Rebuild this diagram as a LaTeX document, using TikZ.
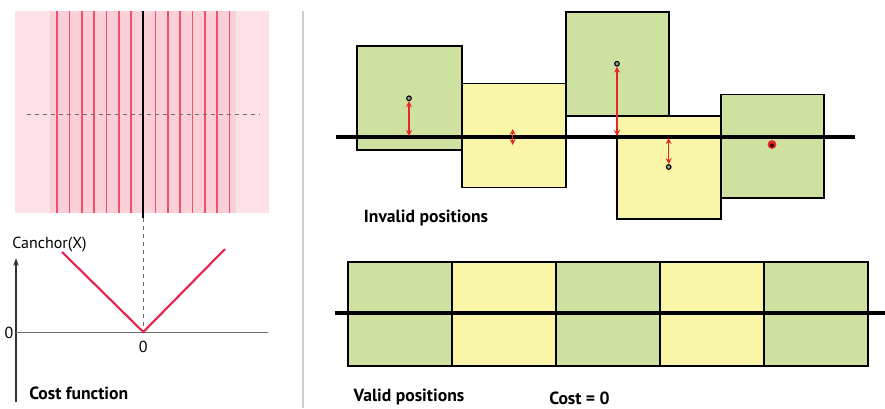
\documentclass[tikz,border=0pt]{standalone}
\usepackage{fontspec}
\setmainfont{PT Sans}
\usetikzlibrary{arrows.meta}
\definecolor{pinkbg}{RGB}{249,208,215}
\definecolor{pinklite}{RGB}{252,226,231}
\definecolor{redline}{RGB}{244,80,105}
\definecolor{vred}{RGB}{232,36,78}
\definecolor{boxgreen}{RGB}{206,225,160}
\definecolor{boxyellow}{RGB}{250,246,168}
\definecolor{sepgray}{RGB}{205,205,205}
\definecolor{axgray}{RGB}{110,110,110}
\definecolor{arrred}{RGB}{230,40,40}
\tikzset{
  gbox/.style={draw=black, line width=1.2pt, fill=boxgreen},
  ybox/.style={draw=black, line width=1.2pt, fill=boxyellow},
  redv/.style={draw=redline, line width=1.3pt},
  axisline/.style={draw=black, line width=3pt},
  costarrow/.style={draw=arrred, line width=0.9pt, {Stealth[length=4.5pt,width=4.5pt]}-{Stealth[length=4.5pt,width=4.5pt]}},
  centerdot/.style={circle, draw=black, fill=white!60!black, line width=0.8pt, inner sep=0pt, minimum size=3.5pt},
  boldlabel/.style={font=\fontsize{13.2}{15}\selectfont\bfseries, inner sep=0pt},
  plainlabel/.style={font=\fontsize{12}{14}\selectfont, inner sep=0pt}
}
\begin{document}
\begin{tikzpicture}[x=0.75pt,y=-0.75pt]
\useasboundingbox (0,0) rectangle (885,408);
\fill[white] (0,0) rectangle (885,408);

% ---------- left: pink field ----------
\fill[pinklite] (15,11) rectangle (269,213);
\fill[pinkbg] (50,11) rectangle (236,213);
\foreach \k in {1,...,7}{
  \draw[redv] ({143.3-12.3*\k},11) -- ({143.3-12.3*\k},213);
  \draw[redv] ({143.3+12.3*\k},11) -- ({143.3+12.3*\k},213);
}
\draw[axgray, dashed, line width=0.6pt, dash pattern=on 3pt off 3pt] (27,114) -- (260,114);
\draw[black, line width=1.3pt] (143.3,11) -- (143.3,218);
\draw[axgray, dashed, line width=0.6pt, dash pattern=on 3pt off 3pt] (143.3,218) -- (143.3,332);

% ---------- left: cost function ----------
\coordinate (yb) at (16,402);
\coordinate (yt) at (16,258);
\coordinate (xl) at (16,332);
\coordinate (xr) at (268,332);
\draw[black!80, line width=0.8pt, -{Stealth[length=6pt,width=4pt]}] (yb) -- (yt);
\draw[axgray, line width=0.7pt] (xl) -- (xr);
\coordinate (vl) at (62,252);
\coordinate (v0) at (143.3,332);
\coordinate (vr) at (225,249);
\draw[vred, line width=1.6pt] (vl) -- (v0) -- (vr);
\node[plainlabel, anchor=west] (canchor) at (12,245) {Canchor(X)};
\node[plainlabel] (zeroy) at (9,333) {0};
\node[plainlabel] (zerox) at (143.3,347) {0};
\node[boldlabel, anchor=west] (costfn) at (29,393) {Cost function};

% ---------- separator ----------
\draw[sepgray, line width=1.4pt] (303,11) -- (303,408);

% ---------- top right: invalid positions ----------
\draw[gbox] (356.7,46) rectangle (461.7,150);
\draw[ybox] (461.7,83.3) rectangle (565.7,187.3);
\draw[gbox] (565.7,11.7) rectangle (669,115.7);
\draw[ybox] (616.7,115.7) rectangle (720.7,219);
\draw[gbox] (720.7,94.3) rectangle (824,197.7);
\coordinate (axl) at (336,136.7);
\coordinate (axr) at (855,136.7);
\draw[axisline] (axl) -- (axr);

\node[centerdot] (c1) at (409,98.3) {};
\coordinate (a1) at (409,136);
\draw[costarrow] (c1.south) -- (a1);

\coordinate (c2t) at (512.7,129);
\coordinate (c2b) at (512.7,145);
\draw[costarrow] (c2t) -- (c2b);

\node[centerdot] (c3) at (617,63.7) {};
\coordinate (a3) at (617,136);
\draw[costarrow] (c3.south) -- (a3);

\node[centerdot] (c4) at (668.7,167) {};
\coordinate (a4) at (668.7,138);
\draw[costarrow] (a4) -- (c4.north);

\fill[arrred] (772,144.5) circle (3.3pt);
\fill[black!70!red] (772,145.5) circle (1.6pt);

\node[boldlabel] (invalid) at (426,218) {Invalid positions};

% ---------- bottom right: valid positions ----------
\draw[gbox] (347.7,261.7) rectangle (451.7,365.7);
\draw[ybox] (451.7,261.7) rectangle (555.7,365.7);
\draw[gbox] (555.7,261.7) rectangle (659.7,365.7);
\draw[ybox] (659.7,261.7) rectangle (763.7,365.7);
\draw[gbox] (763.7,261.7) rectangle (867.7,365.7);
\coordinate (bxl) at (335,313.3);
\coordinate (bxr) at (885,313.3);
\draw[axisline] (bxl) -- (bxr);

\node[boldlabel] (valid) at (409,397) {Valid positions};
\node[boldlabel] (cost0) at (579.5,398) {Cost = 0};
\end{tikzpicture}
\end{document}
